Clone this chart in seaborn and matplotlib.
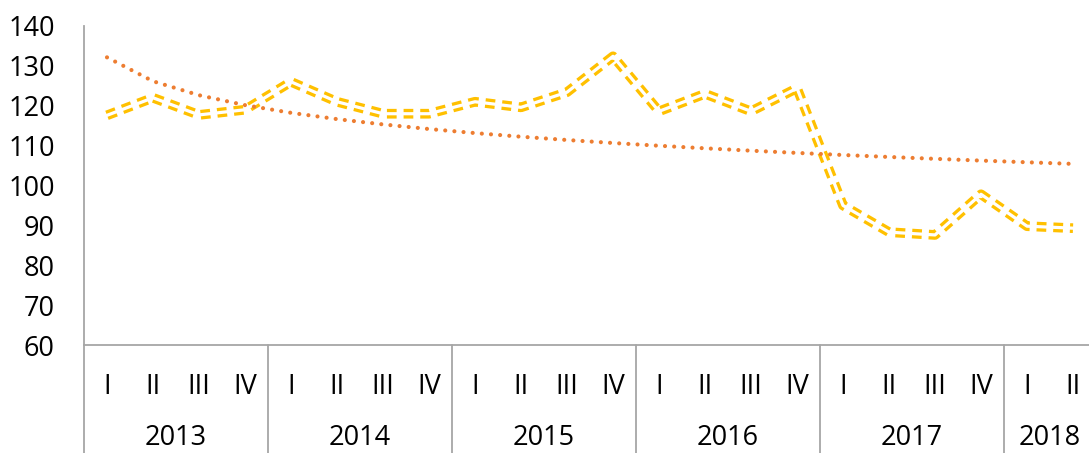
#!/usr/bin/env python3
"""Quarterly index 2013-2018 with logarithmic trendline."""

import matplotlib
matplotlib.use("Agg")
import matplotlib.pyplot as plt
import matplotlib.transforms as mtransforms
import numpy as np
import pandas as pd
import seaborn as sns

YEARS = ["2013", "2014", "2015", "2016", "2017", "2018"]
QUARTERS = ["I", "II", "III", "IV"]
N_QUARTERS = [4, 4, 4, 4, 4, 2]
VALUES = [117.6, 122.0, 117.7, 119.0, 126.0, 121.0, 118.0, 118.0,
          121.0, 119.6, 123.4, 132.4, 118.6, 123.0, 118.6, 124.4,
          95.0, 88.3, 87.6, 97.8, 89.8, 89.3]

YELLOW = "#FFC000"
ORANGE = "#ED7D31"
GRAY = "#A6A6A6"


def main() -> None:
    sns.set_theme(style="white")
    plt.rcParams["font.family"] = ["Open Sans", "DejaVu Sans"]
    plt.rcParams["lines.scale_dashes"] = False

    labels = [q for n in N_QUARTERS for q in QUARTERS[:n]]
    df = pd.DataFrame({"pos": np.arange(len(VALUES)), "value": VALUES})

    # Excel-style logarithmic trendline: y = a*ln(x) + b, x = 1..n
    xn = df["pos"].to_numpy() + 1
    a, b = np.polyfit(np.log(xn), df["value"], 1)
    df["trend"] = a * np.log(xn) + b

    fig = plt.figure(figsize=(10.89, 4.53), dpi=100)
    ax = fig.add_axes([84 / 1089, 108 / 453, 1005 / 1089, 319 / 453])

    # double line: thick dashed yellow with white core
    sns.lineplot(data=df, x="pos", y="value", ax=ax, color=YELLOW,
                 linewidth=7.0, zorder=2)
    ax.lines[-1].set_dashes((7.0, 5.0))
    ax.lines[-1].set_dash_capstyle("butt")
    sns.lineplot(data=df, x="pos", y="value", ax=ax, color="white",
                 linewidth=2.3, zorder=3)
    sns.lineplot(data=df, x="pos", y="trend", ax=ax, color=ORANGE,
                 linewidth=3.0, zorder=4)
    ax.lines[-1].set_dashes((0.01, 6.6))
    ax.lines[-1].set_dash_capstyle("round")

    ax.set_xlim(-0.5, (1089 - 84) / 46 - 0.5)
    ax.set_ylim(60, 140)
    ax.set_yticks(np.arange(60, 141, 10))
    ax.set_xticks(df["pos"])
    ax.set_xticklabels(labels)
    ax.set_xlabel("")
    ax.set_ylabel("")
    ax.tick_params(axis="y", length=0, pad=21, labelsize=19.5, labelcolor="#000000")
    ax.tick_params(axis="x", length=0, pad=20, labelsize=19.5, labelcolor="#000000")

    for side in ("top", "right"):
        ax.spines[side].set_visible(False)
    for side in ("left", "bottom"):
        ax.spines[side].set_color(GRAY)
        ax.spines[side].set_linewidth(1.3)

    trans = mtransforms.blended_transform_factory(ax.transData, ax.transAxes)
    start = 0
    for year, n in zip(YEARS, N_QUARTERS):
        ax.plot([start - 0.5, start - 0.5], [0, -0.35], color=GRAY, lw=1.3,
                transform=trans, clip_on=False)
        ax.text(start + (n - 1) / 2, -0.29, year, transform=trans,
                ha="center", va="center", fontsize=19.5, color="#000000")
        start += n

    fig.savefig("out.png", dpi=100)
    plt.close(fig)


if __name__ == "__main__":
    main()
